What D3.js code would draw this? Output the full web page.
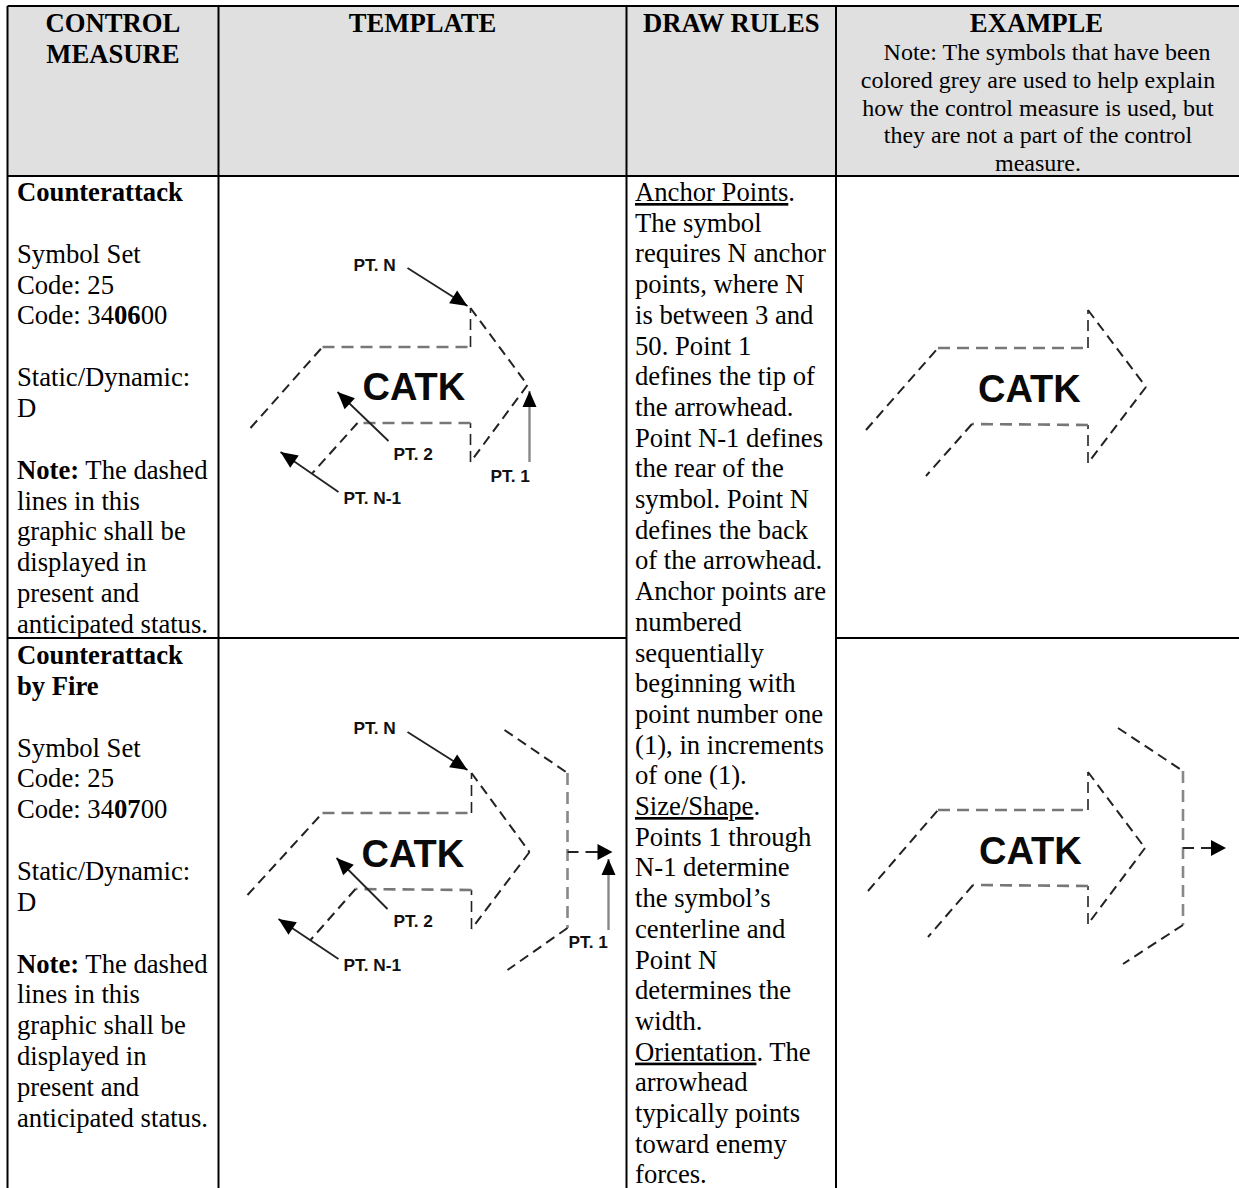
<!DOCTYPE html>
<html><head><meta charset="utf-8">
<style>html,body{margin:0;padding:0;background:#fff}svg{display:block}</style>
<script src="https://cdn.jsdelivr.net/npm/d3@7/dist/d3.min.js"></script>
</head><body><svg id="c" width="1239" height="1188"></svg>
<script>
// ---- table content ----
const headers = ["CONTROL|MEASURE","TEMPLATE","DRAW RULES","EXAMPLE"];
const exampleNote = ["\u00A0\u00A0\u00A0Note: The symbols that have been","colored grey are used to help explain","how the control measure is used, but","they are not a part of the control","measure."];
const row1Lines = ["**Counterattack**","","Symbol Set","Code: 25","Code: 34**06**00","","Static/Dynamic:","D","","**Note:** The dashed","lines in this","graphic shall be","displayed in","present and","anticipated status."];
const row2Lines = ["**Counterattack**","**by Fire**","","Symbol Set","Code: 25","Code: 34**07**00","","Static/Dynamic:","D","","**Note:** The dashed","lines in this","graphic shall be","displayed in","present and","anticipated status."];
const drawRuleLines = ["__Anchor Points__.","The symbol","requires N anchor","points, where N","is between 3 and","50. Point 1","defines the tip of","the arrowhead.","Point N-1 defines","the rear of the","symbol. Point N","defines the back","of the arrowhead.","Anchor points are","numbered","sequentially","beginning with","point number one","(1), in increments","of one (1).","__Size/Shape__.","Points 1 through","N-1 determine","the symbol\u2019s","centerline and","Point N","determines the","width.","__Orientation__. The","arrowhead","typically points","toward enemy","forces."];

// ---- symbol geometry, in cell units ----
const outlineT1 = [[32,252],[104,171],[252,171],[252,132],[309,209],[252,286],[252,247],[139,247],[94,297]];
const outlineT2 = [[29,257],[104,175],[253,175],[253,135],[311,214],[253,291],[253,252],[137,251],[92,302]];
const outlineE1 = [[30,254],[102,172],[252,172],[252,134],[310,211],[252,287],[252,249],[136,248],[90,300]];
const outlineE2 = [[32,253],[102,172],[252,172],[252,134],[309,210],[252,286],[252,248],[137,247],[92,299]];
const fireT2 = [[286,92],[349,135],[349,290],[289,332]];
const fireE2 = [[282,90],[347,133],[347,287],[287,326]];
const fireArrowT2 = [[349,214],[394,214]];
const fireArrowE2 = [[347,210],[390,210]];
const leadersT1 = [[[189,92],[249,130]],[[170,265],[119,216]],[[120,316],[62,276]],[[311,286],[311,215]]];
const leadersT2 = [[[189,94],[249,132]],[[169,271],[118,220]],[[120,321],[60,281]],[[390,292],[390,221]]];
const labelsT1 = [["PT. N",135,95],["PT. 2",175,284],["PT. N-1",125,328],["PT. 1",272,306]];
const labelsT2 = [["PT. N",135,96],["PT. 2",175,289],["PT. N-1",125,333],["PT. 1",350,310]];
const catkT1 = [144,224], catkT2 = [143,229], catkE1 = [142,226], catkE2 = [143,226];
const symbolText = "CATK";

// ---- layout ----
const W=1239,H=1188, L=7.5,C1=218.5,C2=626.5,C3=836, T=6,R1=176,R2=638;
const serif="'Liberation Serif','Times New Roman',serif", sans="'Liberation Sans',Arial,sans-serif";
const svg=d3.select("#c");
svg.append("rect").attr("width",W).attr("height",H).attr("fill","#fff");
svg.append("rect").attr("x",L).attr("y",T).attr("width",W-L).attr("height",R1-T).attr("fill","#e0e0e0");

const grid=[[L,T,W,T],[L,R1,W,R1],[L,T,L,H],[C1,T,C1,H],[C2,T,C2,H],[C3,T,C3,H],[L,R2,C2,R2],[C3,R2,W,R2]];
svg.append("g").selectAll("line").data(grid).join("line")
  .attr("x1",d=>d[0]).attr("y1",d=>d[1]).attr("x2",d=>d[2]).attr("y2",d=>d[3])
  .attr("stroke","#000").attr("stroke-width",2);

// rich text: **bold**, __underline__
function rich(sel,str){
  str.split(/(\*\*.+?\*\*|__.+?__)/).filter(s=>s.length).forEach(p=>{
    const t=sel.append("tspan");
    if(p.startsWith("**")) t.attr("font-weight","bold").text(p.slice(2,-2));
    else if(p.startsWith("__")) t.attr("text-decoration","underline").text(p.slice(2,-2));
    else t.text(p);
  });
}
function block(lines,x,y0,step,size,anchor){
  const g=svg.append("g").attr("font-family",serif).attr("font-size",size).attr("fill","#000").attr("text-anchor",anchor||"start");
  g.selectAll("text").data(lines).join("text")
    .attr("x",x).attr("y",(d,i)=>y0+i*step).attr("xml:space","preserve")
    .each(function(d){rich(d3.select(this),d);});
}
const F=26.67;
const cx=[(L+C1)/2,(C1+C2)/2,(C2+C3)/2,(C3+W)/2];
headers.forEach((h,i)=>block(h.split("|").map(s=>"**"+s+"**"),cx[i]+(i==3?-1:0),32,31,F,"middle"));
block(exampleNote,1038,60,27.8,24,"middle");
block(row1Lines,17,201,30.85,F);
block(row2Lines,17,664,30.85,F);
block(drawRuleLines,635,201,30.7,F);

// symbols
const lineGen=d3.line();
function panel(ox,oy){
  const x=d3.scaleLinear().domain([0,400]).range([ox,ox+400]);
  const y=d3.scaleLinear().domain([0,400]).range([oy,oy+400]);
  return {x,y,g:svg.append("g"),pt:p=>[x(p[0]),y(p[1])]};
}
function segKind(d){
  const dx=Math.abs(d[0][0]-d[1][0]),dy=Math.abs(d[0][1]-d[1][1]);
  if(dy<2) return "h";
  if(dx<2) return dy>100?"long":"short";
  return "diag";
}
const segStyle={
  h:{stroke:"#777",width:2.6,dash:"12 7"},
  long:{stroke:"#888",width:2.6,dash:"12 7"},
  short:{stroke:"#222",width:1.6,dash:"11 6"},
  diag:{stroke:"#222",width:2,dash:"10 6"}
};
function dashed(P0,pts){
  P0.g.selectAll(null).data(d3.pairs(pts)).join("path")
    .attr("d",d=>lineGen(d.map(P0.pt))).attr("fill","none")
    .attr("stroke-dasharray",d=>segStyle[segKind(d)].dash)
    .attr("stroke",d=>segStyle[segKind(d)].stroke)
    .attr("stroke-width",d=>segStyle[segKind(d)].width);
}
function head(P0,a,b,len,wid){
  const A=P0.pt(a),B=P0.pt(b),ang=Math.atan2(B[1]-A[1],B[0]-A[0]);
  const bx=B[0]-len*Math.cos(ang),by=B[1]-len*Math.sin(ang);
  const nx=-Math.sin(ang)*wid/2,ny=Math.cos(ang)*wid/2;
  P0.g.append("path").attr("d",lineGen([B,[bx+nx,by+ny],[bx-nx,by-ny]])+"Z").attr("fill","#000");
}
function leader(P0,l){
  const vertical=l[0][0]===l[1][0];
  P0.g.append("path").attr("d",lineGen(l.map(P0.pt))).attr("fill","none")
    .attr("stroke",vertical?"#888":"#222").attr("stroke-width",vertical?2.4:1.8);
  head(P0,l[0],l[1],vertical?16:17,vertical?14:15);
}
function fireArrow(P0,a){
  const [s,e]=a;
  P0.g.append("path").attr("d",lineGen([s,[e[0]-8,e[1]]].map(P0.pt))).attr("fill","none")
    .attr("stroke","#222").attr("stroke-width",2).attr("stroke-dasharray","11 7 40");
  head(P0,s,e,15,16);
}
function catk(P0,c){
  P0.g.append("text").attr("x",P0.x(c[0])).attr("y",P0.y(c[1])).attr("font-family",sans)
    .attr("font-weight","bold").attr("font-size",38).attr("fill","#0a0a0a").text(symbolText);
}
function labels(P0,ls){
  P0.g.selectAll(null).data(ls).join("text").attr("x",d=>P0.x(d[1])).attr("y",d=>P0.y(d[2]))
    .attr("font-family",sans).attr("font-weight","bold").attr("font-size",17.3).attr("fill","#111").text(d=>d[0]);
}
const t1=panel(C1,R1),t2=panel(C1,R2),e1=panel(C3,R1),e2=panel(C3,R2);
dashed(t1,outlineT1);catk(t1,catkT1);leadersT1.forEach(l=>leader(t1,l));labels(t1,labelsT1);
dashed(t2,outlineT2);dashed(t2,fireT2);fireArrow(t2,fireArrowT2);catk(t2,catkT2);leadersT2.forEach(l=>leader(t2,l));labels(t2,labelsT2);
dashed(e1,outlineE1);catk(e1,catkE1);
dashed(e2,outlineE2);dashed(e2,fireE2);fireArrow(e2,fireArrowE2);catk(e2,catkE2);
</script></body></html>
